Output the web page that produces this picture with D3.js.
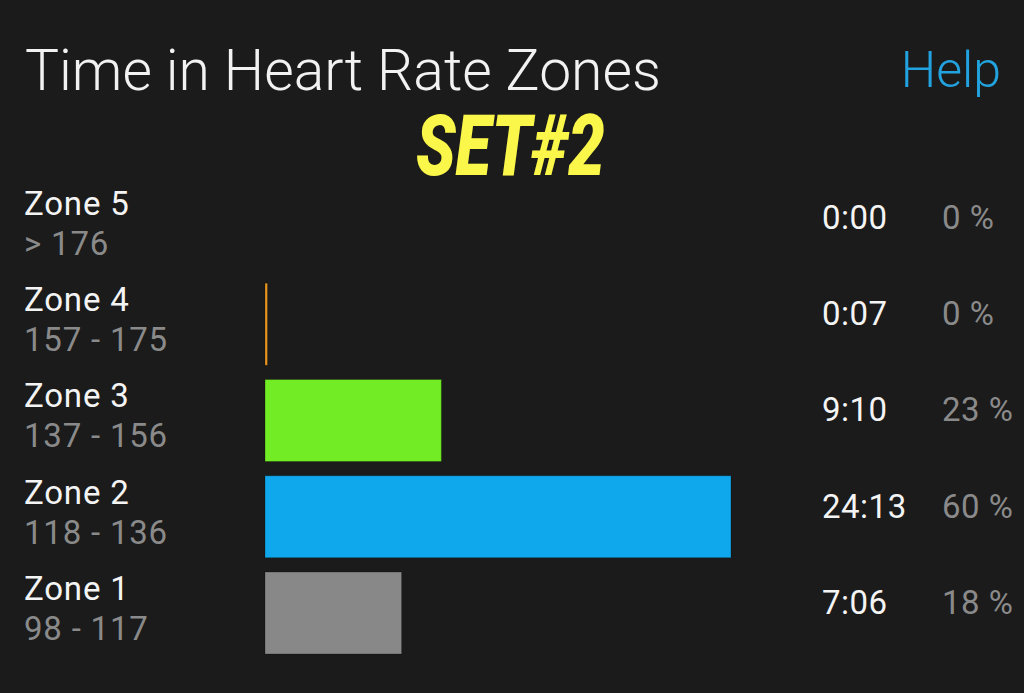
<!DOCTYPE html>
<html lang="en">
<head>
    <meta charset="utf-8">
    <title>Time in Heart Rate Zones</title>
    <style type="text/css">
        html, body { margin: 0; padding: 0; background: #1b1b1b; }
        svg { display: block; }
    </style>
</head>
<body>
<svg class="svg_zones" width="1024" height="693"></svg>

<script src="https://d3js.org/d3.v7.min.js"></script>
<script>
    // zones, top to bottom
    var zones = ['Zone 5', 'Zone 4', 'Zone 3', 'Zone 2', 'Zone 1'];
    var ranges = ['> 176', '157 - 175', '137 - 156', '118 - 136', '98 - 117'];
    var times = ['0:00', '0:07', '9:10', '24:13', '7:06'];
    var percents = ['0 %', '0 %', '23 %', '60 %', '18 %'];
    var colors = ['#e23b2f', '#e8961e', '#72ec24', '#10a8ec', '#888888'];

    var svg = d3.select('.svg_zones'),
        width = +svg.attr('width'),
        height = +svg.attr('height');

    svg.append('rect')
        .attr('width', width)
        .attr('height', height)
        .attr('fill', '#1b1b1b');

    // mm:ss -> seconds
    function toSec(t) {
        var p = t.split(':');
        return (+p[0]) * 60 + (+p[1]);
    }
    var data = zones.map(function(z, i) {
        return {zone: z, range: ranges[i], time: times[i], sec: toSec(times[i]), pct: percents[i], color: colors[i]};
    });

    // scales
    var y = d3.scaleBand()
        .domain(zones)
        .range([187, 654])
        .paddingInner(0.148)
        .paddingOuter(0);

    var x = d3.scaleLinear()
        .domain([0, d3.max(data, function(d) { return d.sec; })])
        .range([265, 731]);

    // title
    var title = svg.append('text')
        .attr('x', 25)
        .attr('y', 90)
        .attr('fill', '#f2f2f2')
        .style('font-family', 'Roboto, "Noto Sans", sans-serif')
        .style('font-weight', 300)
        .style('font-size', '56px')
        .text('Time in Heart Rate Zones');
    // fit title width to reference
    var tw = title.node().getComputedTextLength();
    title.style('font-size', (56 * 636 / tw) + 'px');

    svg.append('text')
        .attr('x', 1001)
        .attr('y', 87)
        .attr('text-anchor', 'end')
        .attr('fill', '#22a2de')
        .style('font-family', 'Roboto, "Noto Sans", sans-serif')
        .style('font-weight', 300)
        .style('font-size', '50px')
        .text('Help');

    svg.append('text')
        .attr('x', 416)
        .attr('y', 175)
        .attr('fill', '#fbf74a')
        .attr('textLength', 189)
        .attr('lengthAdjust', 'spacingAndGlyphs')
        .style('font-family', 'Roboto, "DejaVu Sans", sans-serif')
        .style('font-weight', 900)
        .style('font-style', 'italic')
        .style('font-size', '85px')
        .text('SET#2');

    // rows
    var row = svg.append('g')
        .selectAll('g')
        .data(data)
        .enter()
        .append('g')
        .attr('transform', function(d) { return 'translate(0,' + y(d.zone) + ')'; })
        .style('font-family', 'Roboto, "Noto Sans", sans-serif')
        .style('font-size', '33px');

    row.append('text')
        .attr('x', 24)
        .attr('y', 28)
        .attr('fill', '#f4f4f4')
        .style('letter-spacing', '0.8px')
        .text(function(d) { return d.zone; });

    row.append('text')
        .attr('x', 24)
        .attr('y', 68)
        .attr('fill', '#8a8a8a')
        .style('letter-spacing', '0.8px')
        .text(function(d) { return d.range; });

    row.filter(function(d) { return d.sec > 0; })
        .append('rect')
        .attr('x', x(0))
        .attr('y', 0)
        .attr('width', function(d) { return Math.max(2.5, x(d.sec) - x(0)); })
        .attr('height', y.bandwidth())
        .attr('fill', function(d) { return d.color; })
        .attr('stroke', 'rgba(0,0,0,0.25)')
        .attr('stroke-width', 1);

    row.append('text')
        .attr('x', 822)
        .attr('y', 42)
        .attr('fill', '#f4f4f4')
        .style('letter-spacing', '0.5px')
        .text(function(d) { return d.time; });

    row.append('text')
        .attr('x', 942)
        .attr('y', 42)
        .attr('fill', '#8a8a8a')
        .style('letter-spacing', '0.5px')
        .text(function(d) { return d.pct; });
</script>
</body>
</html>
